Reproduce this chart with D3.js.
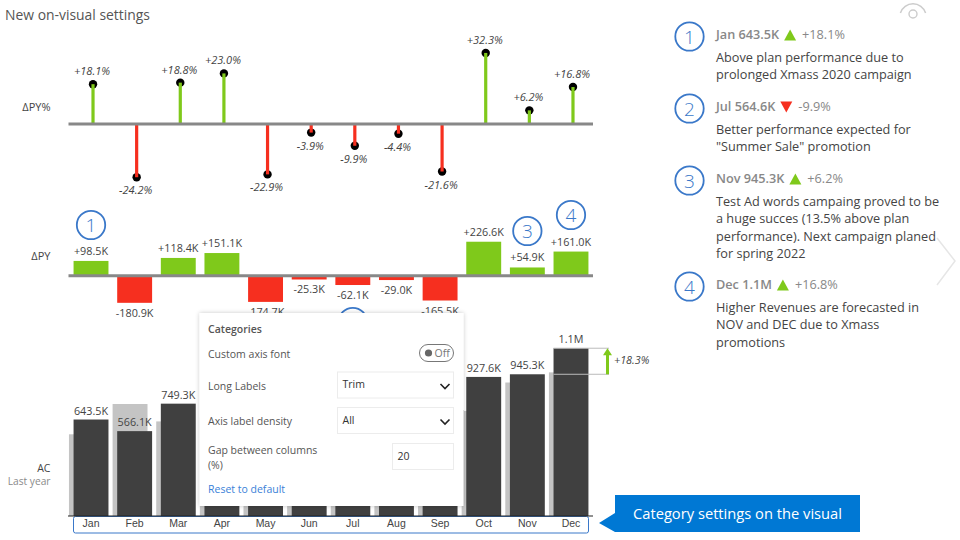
<!DOCTYPE html>
<html>
<head>
<meta charset="utf-8">
<script src="https://cdn.jsdelivr.net/npm/d3@7"></script>
<style>
  html, body { margin: 0; padding: 0; background: #fff; }
  svg { display: block; font-family: "Open Sans", sans-serif; }
</style>
</head>
<body>
<svg id="chart"></svg>
<script>
const months = ["Jan", "Feb", "Mar", "Apr", "May", "Jun", "Jul", "Aug", "Sep", "Oct", "Nov", "Dec"];
const acValues = [643.5, 566.1, 749.3, 808, 588, 623.7, 564.6, 630, 600.7, 927.6, 945.3, 1119];
const pyValues = [545, 747, 630.9, 657, 763, 649, 626.7, 659, 766, 701, 890.4, 958];
const deltaValues = [98.5, -180.9, 118.4, 151.1, -174.7, -25.3, -62.1, -29.0, -165.5, 226.6, 54.9, 161.0];
const deltaPctValues = [18.1, -24.2, 18.8, 23.0, -22.9, -3.9, -9.9, -4.4, -21.6, 32.3, 6.2, 16.8];
// AC labels of the other months sit behind the settings panel
const acLabelMonths = ["Jan", "Feb", "Mar", "Oct", "Nov", "Dec"];
const noteHeads = ["Jan 643.5K", "Jul 564.6K", "Nov 945.3K", "Dec 1.1M"];
const notePcts = ["+18.1%", "-9.9%", "+6.2%", "+16.8%"];
const noteLines = [
  ["Above plan performance due to", "prolonged Xmass 2020 campaign"],
  ["Better performance expected for", "\"Summer Sale\" promotion"],
  ["Test Ad words campaing proved to be", "a huge succes (13.5% above plan", "performance). Next campaign planed", "for spring 2022"],
  ["Higher Revenues are forecasted in", "NOV and DEC due to Xmass", "promotions"]
];

const width = 960;
const height = 540;
const green = "#7fc91b";
const red = "#f62f1f";
const blue = "#3a78c9";
const textColor = "#444";

const svg = d3.select("#chart").attr("width", width).attr("height", height);

const defs = svg.append("defs");
defs.append("filter").attr("id", "shadow")
  .attr("x", "-10%").attr("y", "-10%").attr("width", "120%").attr("height", "120%")
  .append("feDropShadow")
  .attr("dx", 0).attr("dy", 0).attr("stdDeviation", 2)
  .attr("flood-color", "#000").attr("flood-opacity", 0.22);

const xScale = d3.scaleBand().domain(months).range([69.2, 592.8]).paddingInner(0.2).paddingOuter(0.1);
const center = (m) => xScale(m) + xScale.bandwidth() / 2;

// same K per pixel in both the AC and the delta chart
const kPerPx = 6.67;
const acBase = 516;
const yAc = d3.scaleLinear().domain([0, 1200]).range([acBase, acBase - 1200 / kPerPx]);
const deltaBase = 275.7;
const yDelta = d3.scaleLinear().domain([-200, 250]).range([deltaBase + 200 / kPerPx, deltaBase - 250 / kPerPx]);
const pctBase = 124;
const yPct = d3.scaleLinear().domain([-30, 40]).range([pctBase + 30 * 2.2, pctBase - 40 * 2.2]);

const fmtK = (v) => (v >= 1000 ? (v / 1000).toFixed(1) + "M" : v.toFixed(1) + "K");
const sign = (v) => (v > 0 ? "+" : "");

function rowLabel(txt, y, color, size) {
  svg.append("text").attr("x", 50.5).attr("y", y).attr("text-anchor", "end")
    .attr("font-size", size).attr("fill", color).text(txt);
}

svg.append("text").attr("x", 5).attr("y", 20).attr("font-size", 13.9).attr("fill", "#555").text("New on-visual settings");
rowLabel("ΔPY%", 111, textColor, 11);
rowLabel("ΔPY", 260, textColor, 11);
rowLabel("AC", 472, textColor, 10.5);
rowLabel("Last year", 485, "#8a8a8a", 10.2);

// delta % lollipops
const pctRows = months.map((m, i) => ({ m, v: deltaPctValues[i] }));
const pctG = svg.append("g");
pctG.selectAll("circle").data(pctRows).enter().append("circle")
  .attr("cx", (d) => center(d.m) + 2)
  .attr("cy", (d) => yPct(d.v))
  .attr("r", 4.2)
  .attr("fill", "#000");
pctG.selectAll("line").data(pctRows).enter().append("line")
  .attr("x1", (d) => center(d.m) + 2)
  .attr("x2", (d) => center(d.m) + 2)
  .attr("y1", yPct(0))
  .attr("y2", (d) => yPct(d.v))
  .attr("stroke", (d) => (d.v > 0 ? green : red))
  .attr("stroke-width", 3.2);
pctG.selectAll("text").data(pctRows).enter().append("text")
  .attr("x", (d) => center(d.m) + 1)
  .attr("y", (d) => yPct(d.v) + (d.v > 0 ? -9 : 17))
  .attr("text-anchor", "middle")
  .attr("font-size", 11)
  .attr("font-style", "italic")
  .attr("fill", textColor)
  .text((d) => sign(d.v) + d.v.toFixed(1) + "%");
svg.append("line").attr("x1", 68.5).attr("x2", 593).attr("y1", yPct(0)).attr("y2", yPct(0))
  .attr("stroke", "#888").attr("stroke-width", 3);

// delta bars
const deltaRows = months.map((m, i) => ({ m, v: deltaValues[i] }));
const deltaG = svg.append("g");
deltaG.selectAll("rect").data(deltaRows).enter().append("rect")
  .attr("x", (d) => xScale(d.m))
  .attr("width", xScale.bandwidth())
  .attr("y", (d) => yDelta(Math.max(d.v, 0)))
  .attr("height", (d) => Math.abs(yDelta(d.v) - yDelta(0)))
  .attr("fill", (d) => (d.v > 0 ? green : red));
deltaG.selectAll("text").data(deltaRows).enter().append("text")
  .attr("x", (d) => center(d.m))
  .attr("y", (d) => yDelta(d.v) + (d.v > 0 ? -6 : 14))
  .attr("text-anchor", "middle")
  .attr("font-size", 10.8)
  .attr("fill", textColor)
  .text((d) => sign(d.v) + d.v.toFixed(1) + "K");
svg.append("line").attr("x1", 68.5).attr("x2", 593).attr("y1", deltaBase).attr("y2", deltaBase)
  .attr("stroke", "#888").attr("stroke-width", 3);

// numbered circles above the delta bars, number 2 is mostly behind the panel
const circleRows = [
  { n: 1, m: "Jan", y: 225 },
  { n: 2, m: "Jul", y: 322, hidden: true },
  { n: 3, m: "Nov", y: 231 },
  { n: 4, m: "Dec", y: 215 }
];
function numberCircle(cx, cy, n) {
  svg.append("circle").attr("cx", cx).attr("cy", cy).attr("r", 14.2)
    .attr("fill", "#fff").attr("stroke", blue).attr("stroke-width", 1.8);
  if (n) {
    svg.append("text").attr("x", cx).attr("y", cy + 7).attr("text-anchor", "middle")
      .attr("font-size", 19).attr("font-weight", 300).attr("fill", blue).text(n);
  }
}
circleRows.forEach((c) => numberCircle(center(c.m), c.y, c.hidden ? null : c.n));

// AC and previous year columns
const acRows = months.map((m, i) => ({ m, ac: acValues[i], py: pyValues[i] }));
const acG = svg.append("g");
acG.selectAll("rect.py").data(acRows).enter().append("rect").attr("class", "py")
  .attr("x", (d) => xScale(d.m) - 4.6)
  .attr("width", xScale.bandwidth())
  .attr("y", (d) => yAc(d.py))
  .attr("height", (d) => yAc(0) - yAc(d.py))
  .attr("fill", "#c4c4c4");
acG.selectAll("rect.ac").data(acRows).enter().append("rect").attr("class", "ac")
  .attr("x", (d) => xScale(d.m))
  .attr("width", xScale.bandwidth())
  .attr("y", (d) => yAc(d.ac))
  .attr("height", (d) => yAc(0) - yAc(d.ac))
  .attr("fill", "#404040");
acG.selectAll("text").data(acRows.filter((d) => acLabelMonths.includes(d.m))).enter().append("text")
  .attr("x", (d) => center(d.m))
  .attr("y", (d) => yAc(d.ac) - 5)
  .attr("text-anchor", "middle")
  .attr("font-size", 10.8)
  .attr("fill", textColor)
  .text((d) => fmtK(d.ac));

// variance arrow Nov to Dec
const arrowX = 607.5;
const yDec = yAc(acValues[11]);
const yNov = yAc(acValues[10]);
[yDec, yNov].forEach((y) => {
  svg.append("line").attr("x1", xScale("Dec")).attr("x2", arrowX + 1.5).attr("y1", y).attr("y2", y)
    .attr("stroke", "#bbb").attr("stroke-width", 1);
});
svg.append("line").attr("x1", arrowX).attr("x2", arrowX).attr("y1", yNov).attr("y2", yDec + 4)
  .attr("stroke", green).attr("stroke-width", 3);
svg.append("path")
  .attr("d", d3.line()([[arrowX - 4.5, yDec + 7], [arrowX, yDec], [arrowX + 4.5, yDec + 7]]) + "Z")
  .attr("fill", green);
svg.append("text").attr("x", 614).attr("y", 364).attr("font-size", 10.8).attr("font-style", "italic")
  .attr("fill", textColor).text("+18.3%");

// category axis with the blue selection box
svg.append("rect").attr("x", 73.5).attr("y", 516.5).attr("width", 515).attr("height", 16.5).attr("rx", 2)
  .attr("fill", "#fff").attr("stroke", blue).attr("stroke-width", 1);
svg.append("line").attr("x1", 68).attr("x2", 593).attr("y1", acBase).attr("y2", acBase).attr("stroke", "#222");
const xAxis = d3.axisBottom(xScale).tickSize(0).tickPadding(4);
const axisG = svg.append("g").attr("transform", "translate(0," + acBase + ")").call(xAxis);
axisG.select(".domain").remove();
axisG.selectAll("text").attr("font-size", 10.5).attr("font-family", "inherit").attr("fill", textColor);

// settings panel
const panel = svg.append("g").attr("font-size", 10.5).attr("fill", "#555");
panel.append("rect").attr("x", 199.5).attr("y", 313).attr("width", 264).attr("height", 193)
  .attr("fill", "#fff").attr("filter", "url(#shadow)");
panel.append("text").attr("x", 208).attr("y", 333).attr("font-weight", 600).text("Categories");
panel.append("text").attr("x", 208).attr("y", 358).text("Custom axis font");
panel.append("text").attr("x", 208).attr("y", 390).text("Long Labels");
panel.append("text").attr("x", 208).attr("y", 425).text("Axis label density");
panel.append("text").attr("x", 208).attr("y", 454).text("Gap between columns");
panel.append("text").attr("x", 208).attr("y", 469).text("(%)");
panel.append("text").attr("x", 208).attr("y", 493).attr("fill", "#3a7fd8").text("Reset to default");
panel.append("rect").attr("x", 419.5).attr("y", 344.5).attr("width", 34).attr("height", 17).attr("rx", 8.5)
  .attr("fill", "#fff").attr("stroke", "#777");
panel.append("circle").attr("cx", 428.5).attr("cy", 353).attr("r", 3.6).attr("fill", "#666");
panel.append("text").attr("x", 434.5).attr("y", 357).attr("fill", "#777").text("Off");
const boxes = [
  { x: 337.5, y: 372, w: 116, h: 26, txt: "Trim", chevron: true },
  { x: 337.5, y: 407.5, w: 116, h: 26, txt: "All", chevron: true },
  { x: 392.5, y: 443.5, w: 61, h: 26, txt: "20", chevron: false }
];
boxes.forEach((b) => {
  panel.append("rect").attr("x", b.x).attr("y", b.y).attr("width", b.w).attr("height", b.h)
    .attr("fill", "#fff").attr("stroke", "#ececec");
  panel.append("text").attr("x", b.x + 5).attr("y", b.y + 16).attr("fill", "#333").text(b.txt);
  if (b.chevron) {
    panel.append("path")
      .attr("d", d3.line()([[b.x + 103, b.y + 12], [b.x + 107.5, b.y + 16.5], [b.x + 112, b.y + 12]]))
      .attr("fill", "none").attr("stroke", "#222").attr("stroke-width", 1.6);
  }
});
panel.append("line").attr("x1", 463.5).attr("x2", 463.5).attr("y1", 410).attr("y2", 506)
  .attr("stroke", "#ddd").attr("stroke-width", 1);

// blue callout
svg.append("path")
  .attr("d", d3.line()([[615, 495], [860, 495], [860, 532], [615, 532], [599, 523], [615, 513]]) + "Z")
  .attr("fill", "#0078d4");
svg.append("text").attr("x", 633).attr("y", 519).attr("font-size", 14.7).attr("fill", "#fff")
  .text("Category settings on the visual");

// notes on the right
const noteYs = [35, 107, 179, 285];
noteHeads.forEach((head, i) => {
  const y = noteYs[i];
  numberCircle(689.5, y + 1.5, i + 1);
  const headText = svg.append("text").attr("x", 716).attr("y", y + 4).attr("font-size", 12.7)
    .attr("font-weight", 600).attr("fill", "#888").text(head);
  const endX = 716 + headText.node().getComputedTextLength();
  const up = !notePcts[i].startsWith("-");
  const triX = endX + 11;
  svg.append("path")
    .attr("d", up
      ? d3.line()([[triX - 6, y + 5.5], [triX, y - 5.5], [triX + 6, y + 5.5]]) + "Z"
      : d3.line()([[triX - 6, y - 5.5], [triX, y + 5.5], [triX + 6, y - 5.5]]) + "Z")
    .attr("fill", up ? green : red);
  svg.append("text").attr("x", triX + 12).attr("y", y + 4).attr("font-size", 12.7)
    .attr("font-weight", 500).attr("fill", "#888").text(notePcts[i]);
  noteLines[i].forEach((line, j) => {
    svg.append("text").attr("x", 716).attr("y", y + 27 + j * 17.4).attr("font-size", 12.7)
      .attr("fill", textColor).text(line);
  });
});

// eye icon and next arrow
const eye = d3.arc().innerRadius(12.5).outerRadius(14).startAngle(-Math.PI / 2.5).endAngle(Math.PI / 2.5);
svg.append("path").attr("transform", "translate(913,17)").attr("d", eye()).attr("fill", "#ccc");
svg.append("circle").attr("cx", 913).attr("cy", 14).attr("r", 4).attr("fill", "none")
  .attr("stroke", "#ccc").attr("stroke-width", 1.4);
svg.append("path").attr("d", d3.line()([[937, 238], [955, 261], [937, 285]]))
  .attr("fill", "none").attr("stroke", "#e6e6e6").attr("stroke-width", 1.5);
</script>
</body>
</html>
